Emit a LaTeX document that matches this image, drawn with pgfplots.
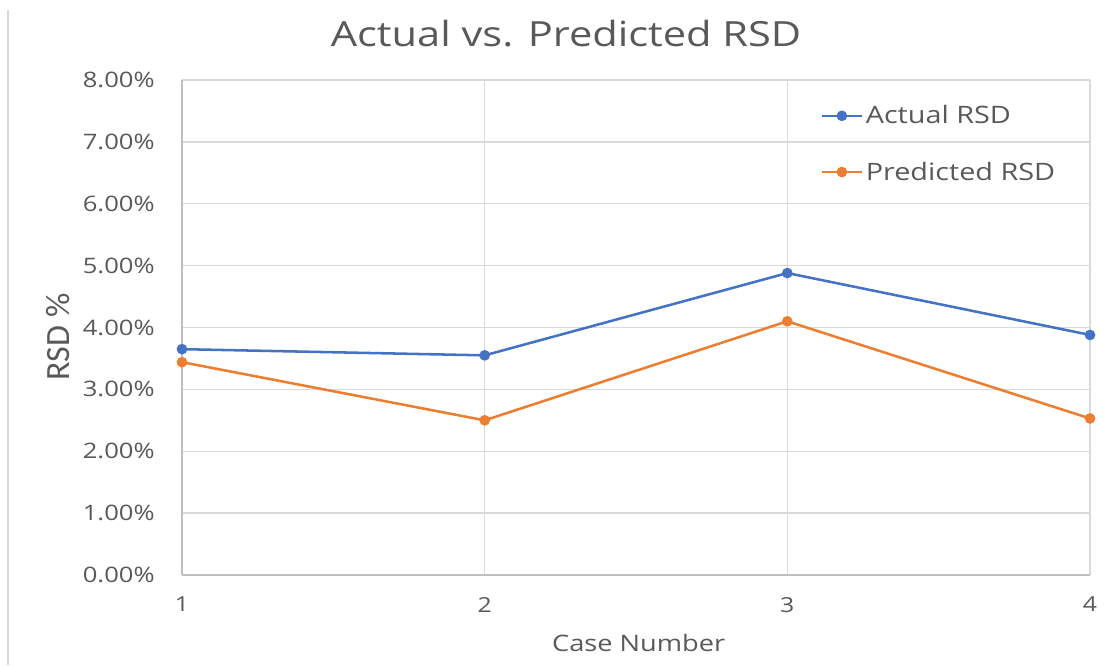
\documentclass[border=0pt]{standalone}
\usepackage{fontspec}
\setmainfont{Open Sans}[FakeStretch=1.2]
\newfontfamily\narrowfont{Carlito}
\usepackage{pgfplots}
\pgfplotsset{compat=1.18}
\definecolor{txt}{RGB}{89,89,89}
\definecolor{gridc}{RGB}{217,217,217}
\definecolor{axc}{RGB}{191,191,191}
\definecolor{blu}{RGB}{68,114,196}
\definecolor{ora}{RGB}{237,125,49}
\begin{document}
\begin{tikzpicture}
\path[use as bounding box] (-136.5pt,-67.5pt) rectangle (699pt,431.25pt);
\draw[gridc, line width=1pt] (-130.5pt,423.75pt) -- (-130.5pt,-67.5pt);
\begin{axis}[
  at={(0,0)}, anchor=south west,
  scale only axis,
  width=681pt, height=371.25pt,
  xmin=1, xmax=4, ymin=0, ymax=8,
  xtick={1,2,3,4},
  ytick={0,1,2,3,4,5,6,7,8},
  yticklabel={\pgfmathprintnumber[fixed,fixed zerofill,precision=2]{\tick}\%},
  /pgf/number format/assume math mode=true,
  axis lines*=left,
  axis line style={axc, line width=1pt},
  grid=major,
  major grid style={gridc, line width=1pt},
  major tick length=0pt,
  tick label style={font=\fontsize{15.5}{18}\selectfont, text=txt},
  yticklabel style={xshift=-17pt, font=\fontsize{16}{18}\selectfont},
  xticklabel style={yshift=-13pt},
  title={Actual vs. Predicted RSD},
  title style={at={(axis description cs:0.423,1.078)}, anchor=center, font=\fontsize{26}{30}\selectfont, text=txt},
  xlabel={Case Number},
  xlabel style={at={(axis description cs:0.503,-0.138)}, anchor=center, font=\fontsize{17}{20}\selectfont, text=txt},
  ylabel={RSD \%},
  ylabel style={at={(axis description cs:-0.137,0.481)}, anchor=center, rotate=0, font=\narrowfont\fontsize{25.5}{28}\selectfont, text=txt},
  legend style={at={(axis description cs:0.703,0.954)}, anchor=north west, draw=none, fill=none,
    font=\fontsize{18}{21}\selectfont, text=txt, row sep=23pt, inner sep=0pt},
  legend cell align=left,
  legend image code/.code={\draw[mark repeat=2,mark phase=2,#1] plot coordinates {(0pt,0pt) (15pt,0pt) (30pt,0pt)};},
  clip=false,
]
\addplot[blu, line width=1.9pt, mark=*, mark size=3pt] coordinates {(1,3.65) (2,3.55) (3,4.88) (4,3.88)};
\addlegendentry{Actual RSD}
\addplot[ora, line width=1.9pt, mark=*, mark size=3pt] coordinates {(1,3.44) (2,2.50) (3,4.10) (4,2.53)};
\addlegendentry{Predicted RSD}
\end{axis}
\end{tikzpicture}
\end{document}
